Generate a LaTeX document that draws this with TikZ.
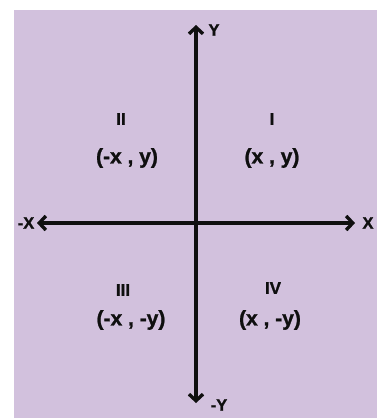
\documentclass[tikz,border=0pt]{standalone}
\usepackage{fontspec}
\setmainfont{Liberation Sans}
\newfontfamily\heavyfont{Liberation Sans}[BoldFeatures={FakeBold=1.2}]
\usetikzlibrary{arrows.meta}
\definecolor{bgpurple}{RGB}{210,193,221}
\definecolor{axisblack}{RGB}{15,15,15}
\tikzset{
  axisline/.style={draw=axisblack, line width=3.4pt, {Straight Barb[length=6.5pt,width=14pt]}-{Straight Barb[length=6.5pt,width=14pt]}},
  coordlabel/.style={font=\fontsize{21}{24}\heavyfont\bfseries, text=axisblack, inner sep=0pt},
  quadlabel/.style={font=\fontsize{17}{20}\heavyfont\bfseries, text=axisblack, inner sep=0pt},
  axislabel/.style={font=\fontsize{16.5}{19}\heavyfont\bfseries, text=axisblack, inner sep=0pt}
}
\begin{document}
\begin{tikzpicture}[x=1pt,y=-1pt]
\useasboundingbox (0,0) rectangle (377,418);
\fill[white] (0,0) rectangle (377,418);
\fill[bgpurple] (14,10) rectangle (377,418);
% axes
\coordinate (top) at (196,25);
\coordinate (bottom) at (196,403);
\coordinate (left) at (37,223);
\coordinate (right) at (355,223);
\draw[axisline] (left) -- (right);
\draw[axisline] (bottom) -- (top);
% axis labels
\node[axislabel] (ylab) at (214,30) {Y};
\node[axislabel] (nylab) at (219,405) {-Y};
\node[axislabel] (xlab) at (368,223) {X};
\node[axislabel] (nxlab) at (26,223) {-X};
% quadrants
\node[quadlabel] (q2) at (121,119) {II};
\node[coordlabel] (c2) at (127,158) {(-x\ ,\ y)};
\node[quadlabel] (q1) at (272,119) {I};
\node[coordlabel] (c1) at (272,158) {(x\ ,\ y)};
\node[quadlabel] (q3) at (123,290) {III};
\node[coordlabel] (c3) at (131,320) {(-x\ ,\ -y)};
\node[quadlabel] (q4) at (273,288) {IV};
\node[coordlabel] (c4) at (270,320) {(x\ ,\ -y)};
\end{tikzpicture}
\end{document}
